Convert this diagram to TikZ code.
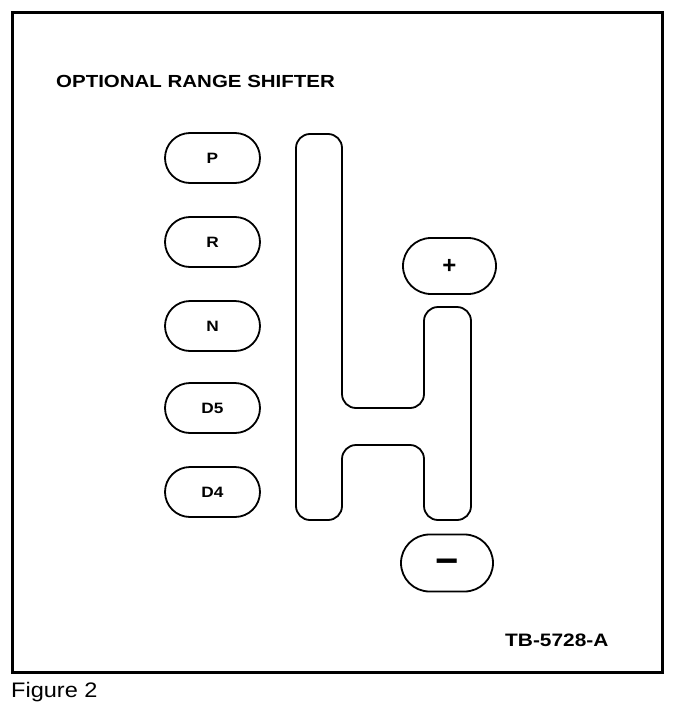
\documentclass[tikz,border=0pt]{standalone}
\usepackage{fontspec}
\setmainfont{Liberation Sans}
\usepackage{graphicx}
\usetikzlibrary{shapes.misc}
\begin{document}
\begin{tikzpicture}[x=1pt,y=-1pt,
  frame/.style={line width=3pt},
  gate/.style={line width=1.8pt, rounded corners=14pt},
  keybtn/.style={draw, rounded rectangle, line width=1.8pt, minimum width=95pt, minimum height=50pt, inner sep=0pt},
  btnlabel/.style={font=\bfseries\fontsize{15}{15}\selectfont},
  txt/.style={inner sep=0pt, anchor=base west}]
\useasboundingbox (0,0) rectangle (688,712);
\draw[frame] (12,12) rectangle (662,672);
\node[txt] (title) at (56,87) {\scalebox{1.17}[1]{\bfseries\fontsize{17.5}{20}\selectfont OPTIONAL RANGE SHIFTER}};
\node[txt] (code) at (505,646) {\scalebox{1.16}[1]{\bfseries\fontsize{18}{20}\selectfont TB-5728-A}};
\node[txt] (fig) at (11,697) {\scalebox{1.12}[1]{\fontsize{21}{24}\selectfont Figure 2}};
% gate
\draw[gate] (296,300) -- (296,134) -- (342,134) -- (342,408) -- (424,408) -- (424,307)
  -- (471,307) -- (471,520) -- (424,520) -- (424,445) -- (342,445) -- (342,520)
  -- (296,520) -- cycle;
% selector buttons
\node[keybtn, btnlabel] (P) at (212.5,158) {\scalebox{1.15}[1]{P}};
\node[keybtn, btnlabel] (R) at (212.5,242) {\scalebox{1.15}[1]{R}};
\node[keybtn, btnlabel] (N) at (212.5,326) {\scalebox{1.15}[1]{N}};
\node[keybtn, btnlabel] (D5) at (212.5,408) {\scalebox{1.15}[1]{D5}};
\node[keybtn, btnlabel] (D4) at (212.5,492) {\scalebox{1.15}[1]{D4}};
\node[keybtn, minimum width=93pt, minimum height=56pt, font=\bfseries\fontsize{24}{24}\selectfont] (plus) at (449.5,266) {+};
\node[keybtn, minimum width=92pt, minimum height=57pt, font=\bfseries\fontsize{40}{40}\selectfont, text height=22pt, text depth=0pt] (minus) at (447,563) {−};
\end{tikzpicture}
\end{document}
